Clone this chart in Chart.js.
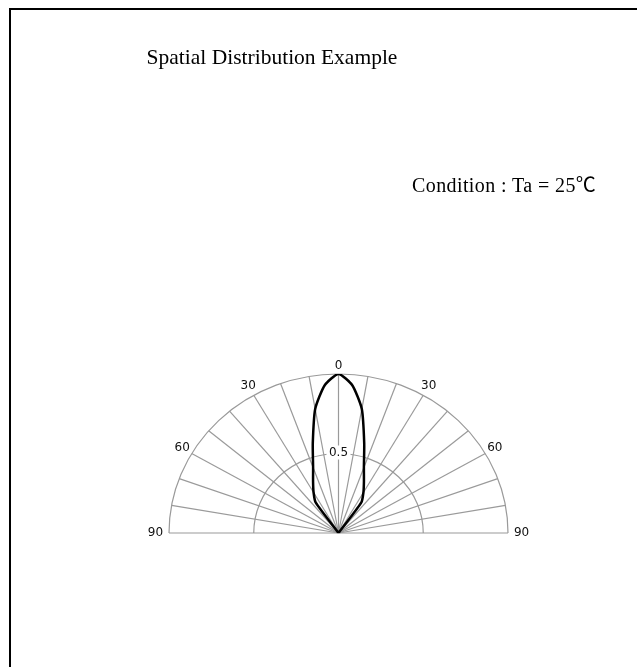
<!DOCTYPE html>
<html>
<head>
<meta charset="utf-8">
<script src="https://cdn.jsdelivr.net/npm/chart.js@4"></script>
<style>
  html, body { margin: 0; background: #fff; overflow: hidden; }
  #page { position: relative; width: 637px; height: 667px; overflow: hidden; }
  #frame { position: absolute; left: 9px; top: 8px; width: 660px; height: 700px;
           border-left: 2px solid #000; border-top: 2px solid #000; }
  #chartBox { position: absolute; left: 0; top: 0; width: 637px; height: 667px; }
  .txt { position: absolute; font-family: "Liberation Serif", "Noto Sans CJK JP", serif; color: #000; white-space: nowrap; }
  #title { left: 0; width: 544px; top: 44px; text-align: center; font-size: 21.5px; line-height: 26px; }
  #cond { left: 412px; top: 173px; font-size: 20px; line-height: 24px; letter-spacing: 0.4px; }
</style>
</head>
<body>
<div id="page">
  <div id="frame"></div>
  <div id="chartBox"><canvas id="polarChart" width="637" height="667"></canvas></div>
  <div class="txt" id="title">Spatial Distribution Example</div>
  <div class="txt" id="cond">Condition : Ta = 25℃</div>
</div>
<script>
  // radiation angle (deg) and relative intensity
  const angles = [-40, -35, -30, -25, -20, -15, -10, -5, 0, 5, 10, 15, 20, 25, 30, 35, 40];
  const intensity = [0, 0.235, 0.294, 0.355, 0.438, 0.586, 0.792, 0.933, 1, 0.933, 0.792, 0.586, 0.438, 0.355, 0.294, 0.235, 0];

  const gridAngles = [-90, -80, -70, -60, -50, -40, -30, -20, -10, 0, 10, 20, 30, 40, 50, 60, 70, 80, 90];
  const gridRings = [0.5, 1];
  const angleLabelAt = [-90, -60, -30, 0, 30, 60, 90];
  const angleLabels = ['90', '60', '30', '0', '30', '60', '90'];

  const rad = d => d * Math.PI / 180;
  const points = angles.map((a, i) => ({
    x: intensity[i] * Math.sin(rad(a)),
    y: intensity[i] * Math.cos(rad(a))
  }));

  const polarGrid = {
    id: 'polarGrid',
    beforeDatasetsDraw(chart) {
      const { ctx, scales: { x, y } } = chart;
      const px = (r, a) => x.getPixelForValue(r * Math.sin(rad(a)));
      const py = (r, a) => y.getPixelForValue(r * Math.cos(rad(a)));
      const cx = x.getPixelForValue(0), cy = y.getPixelForValue(0);
      ctx.save();
      ctx.strokeStyle = '#9a9a9a';
      ctx.lineWidth = 1.2;
      // spokes
      gridAngles.forEach(a => {
        ctx.beginPath();
        ctx.moveTo(cx, cy);
        ctx.lineTo(px(1, a), py(1, a));
        ctx.stroke();
      });
      // rings
      gridRings.forEach(r => {
        const rx = x.getPixelForValue(r) - cx;
        const ry = cy - y.getPixelForValue(r);
        ctx.beginPath();
        ctx.ellipse(cx, cy, rx, ry, 0, Math.PI, 2 * Math.PI);
        ctx.stroke();
      });
      // angle labels
      ctx.fillStyle = '#111';
      ctx.font = '12px "DejaVu Sans", sans-serif';
      ctx.textAlign = 'center';
      ctx.textBaseline = 'middle';
      angleLabelAt.forEach((a, i) => {
        const r = Math.abs(a) === 90 ? 1.08 : (a === 0 ? 1.05 : 1.065);
        ctx.fillText(angleLabels[i], px(r, a), py(r, a));
      });
      // ring value label
      const ly = y.getPixelForValue(0.5) - 1;
      ctx.fillStyle = '#fff';
      ctx.fillRect(cx - 12, ly - 7, 24, 14);
      ctx.fillStyle = '#111';
      ctx.fillText('0.5', cx, ly);
      ctx.restore();
    }
  };

  const ctx = document.getElementById('polarChart').getContext('2d');
  const chart = new Chart(ctx, {
    type: 'scatter',
    data: {
      datasets: [{
        data: points,
        showLine: true,
        borderColor: '#000',
        borderWidth: 2.5,
        pointRadius: 0,
        tension: 0.2,
        fill: false
      }]
    },
    options: {
      responsive: false,
      animation: false,
      layout: { padding: { left: 169, right: 129, top: 374, bottom: 134 } },
      scales: {
        x: { type: 'linear', min: -1, max: 1, display: false },
        y: { type: 'linear', min: 0, max: 1, display: false }
      },
      plugins: {
        legend: { display: false },
        tooltip: { enabled: false }
      }
    },
    plugins: [polarGrid]
  });
</script>
</body>
</html>
